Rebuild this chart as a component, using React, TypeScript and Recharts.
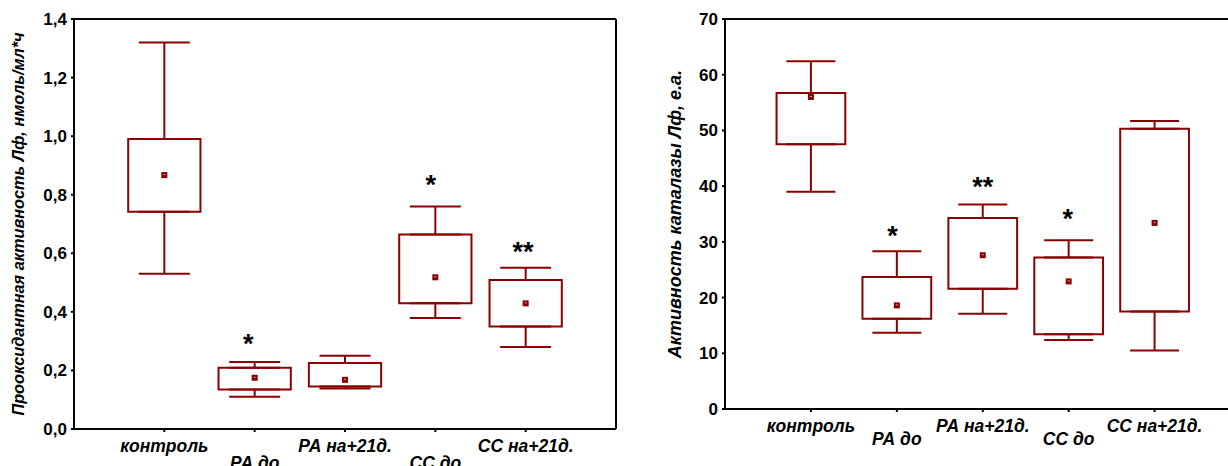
import {
  ComposedChart,
  ErrorBar,
  ReferenceArea,
  Scatter,
  XAxis,
  YAxis,
} from 'recharts'

const groups = ['контроль', 'РА до', 'РА на+21д.', 'СС до', 'СС на+21д.']

// left panel: prooxidant activity, nmol/ml*h
const proxMin = [0.53, 0.11, 0.138, 0.379, 0.28]
const proxQ1 = [0.742, 0.135, 0.145, 0.429, 0.35]
const proxMean = [0.867, 0.175, 0.168, 0.518, 0.429]
const proxQ3 = [0.99, 0.209, 0.225, 0.664, 0.509]
const proxMax = [1.32, 0.229, 0.25, 0.76, 0.551]
const proxStars = [
  { x: 1.93, y: 0.312, label: '*' },
  { x: 3.95, y: 0.853, label: '*' },
  { x: 4.97, y: 0.624, label: '**' },
]
const proxTicks = [0, 0.2, 0.4, 0.6, 0.8, 1.0, 1.2, 1.4]

// right panel: catalase activity, a.u.
const catMin = [39.0, 13.7, 17.1, 12.4, 10.5]
const catQ1 = [47.5, 16.2, 21.6, 13.4, 17.5]
const catMean = [56.0, 18.6, 27.6, 22.9, 33.4]
const catQ3 = [56.7, 23.7, 34.3, 27.2, 50.3]
const catMax = [62.4, 28.3, 36.7, 30.3, 51.7]
const catStars = [
  { x: 1.95, y: 32.2, label: '*' },
  { x: 3.0, y: 40.9, label: '**' },
  { x: 3.99, y: 35.1, label: '*' },
]
const catTicks = [0, 10, 20, 30, 40, 50, 60, 70]

const RED = '#8b0000'
const FONT = '"Liberation Sans", Arial, sans-serif'
const catPositions = [1, 2, 3, 4, 5]

function MeanMark(props: any) {
  const { cx, cy } = props
  if (cx == null || cy == null) return <g />
  return (
    <g>
      <rect x={cx - 3} y={cy - 3} width={6} height={6} fill={RED} />
      <rect x={cx - 1} y={cy - 1} width={2} height={1} fill="#d9a0a0" />
    </g>
  )
}

function Star(props: any) {
  const { cx, cy, payload } = props
  if (cx == null || cy == null) return <g />
  return (
    <text x={cx} y={cy + 15} textAnchor="middle" fontFamily={FONT} fontWeight="bold" fontSize={27} fill="#000">
      {payload.label}
    </text>
  )
}

function makeTick(row1: number, row2: number) {
  return function GroupTick(props: any) {
    const { x, payload } = props
    const i = Math.round(payload.value) - 1
    const axisY = props.y
    return (
      <text
        x={x}
        y={axisY + (i % 2 === 1 ? row2 : row1)}
        textAnchor="middle"
        fontFamily={FONT}
        fontWeight="bold"
        fontStyle="italic"
        fontSize={17.5}
        fill="#000"
      >
        {groups[i]}
      </text>
    )
  }
}

type PanelProps = {
  width: number
  height: number
  margin: { top: number; right: number; left: number; bottom: number }
  yWidth: number
  xHeight: number
  domain: [number, number]
  ticks: number[]
  fmt: (v: number) => string
  mins: number[]
  q1s: number[]
  means: number[]
  q3s: number[]
  maxs: number[]
  stars: { x: number; y: number; label: string }[]
  yLabel: string
  labelSize: number
  labelOffset: number
  row1: number
  row2: number
  capWidth: number
}

function BoxPanel(p: PanelProps) {
  const meanPts = groups.map((_, i) => ({ x: i + 1, y: p.means[i] }))
  const upperPts = groups.map((_, i) => ({ x: i + 1, y: p.q3s[i], err: [0, p.maxs[i] - p.q3s[i]] }))
  const lowerPts = groups.map((_, i) => ({ x: i + 1, y: p.q1s[i], err: [p.q1s[i] - p.mins[i], 0] }))
  const tickStyle = { fontFamily: FONT, fontWeight: 'bold', fontSize: 17, fill: '#000' }

  return (
    <ComposedChart width={p.width} height={p.height} margin={p.margin}>
      <XAxis
        xAxisId="b"
        dataKey="x"
        type="number"
        domain={[0, 6]}
        ticks={catPositions}
        allowDataOverflow
        height={p.xHeight}
        tickSize={3}
        tickMargin={0}
        interval={0}
        stroke="#000"
        strokeWidth={2}
        tick={makeTick(p.row1, p.row2)}
      />
      <XAxis
        xAxisId="t"
        orientation="top"
        dataKey="x"
        type="number"
        domain={[0, 6]}
        ticks={catPositions}
        height={1}
        mirror
        tickSize={3}
        tick={false}
        stroke="#000"
        strokeWidth={2}
      />
      <YAxis
        yAxisId="l"
        dataKey="y"
        type="number"
        domain={p.domain}
        ticks={p.ticks}
        interval={0}
        width={p.yWidth}
        tickSize={3}
        tickMargin={4}
        tickFormatter={p.fmt}
        tick={tickStyle}
        stroke="#000"
        strokeWidth={2}
        label={{
          value: p.yLabel,
          angle: -90,
          position: 'insideLeft',
          offset: p.labelOffset,
          style: { textAnchor: 'middle', fontFamily: FONT, fontWeight: 'bold', fontStyle: 'italic', fontSize: p.labelSize, fill: '#000' },
        }}
      />
      <YAxis
        yAxisId="r"
        orientation="right"
        type="number"
        domain={p.domain}
        ticks={p.ticks}
        width={1}
        mirror
        tickSize={3}
        tick={false}
        stroke="#000"
        strokeWidth={2}
      />
      {groups.map((g, i) => (
        <ReferenceArea
          key={g}
          xAxisId="b"
          yAxisId="l"
          x1={i + 1 - 0.4}
          x2={i + 1 + 0.4}
          y1={p.q1s[i]}
          y2={p.q3s[i]}
          fill="#fff"
          fillOpacity={1}
          stroke={RED}
          strokeWidth={2}
        />
      ))}
      <Scatter xAxisId="b" yAxisId="l" data={upperPts} isAnimationActive={false} shape={() => <g />}>
        <ErrorBar dataKey="err" direction="y" width={p.capWidth / 2} stroke={RED} strokeWidth={2} isAnimationActive={false} />
      </Scatter>
      <Scatter xAxisId="b" yAxisId="l" data={lowerPts} isAnimationActive={false} shape={() => <g />}>
        <ErrorBar dataKey="err" direction="y" width={p.capWidth / 2} stroke={RED} strokeWidth={2} isAnimationActive={false} />
      </Scatter>
      <Scatter xAxisId="b" yAxisId="l" data={meanPts} isAnimationActive={false} shape={MeanMark} />
      <Scatter xAxisId="b" yAxisId="l" data={p.stars} isAnimationActive={false} shape={Star} />
    </ComposedChart>
  )
}

export default function App() {
  return (
    <div style={{ position: 'absolute', left: 0, top: 0, width: 1228, height: 466, overflow: 'hidden', background: '#fff' }}>
      <div style={{ position: 'absolute', left: 0, top: 0 }}>
        <BoxPanel
          width={620}
          height={466}
          margin={{ top: 19, right: 4, left: 0, bottom: 0 }}
          yWidth={74}
          xHeight={37}
          domain={[0, 1.4]}
          ticks={proxTicks}
          fmt={(v) => v.toFixed(1).replace('.', ',')}
          mins={proxMin}
          q1s={proxQ1}
          means={proxMean}
          q3s={proxQ3}
          maxs={proxMax}
          stars={proxStars}
          yLabel="Прооксидантная активность Лф, нмоль/мл*ч"
          labelSize={16.3}
          labelOffset={18}
          row1={20}
          row2={37}
          capWidth={51}
        />
      </div>
      <div style={{ position: 'absolute', left: 620, top: 0 }}>
        <BoxPanel
          width={640}
          height={466}
          margin={{ top: 19, right: 19.5, left: 0, bottom: 0 }}
          yWidth={105}
          xHeight={57}
          domain={[0, 70]}
          ticks={catTicks}
          fmt={(v) => String(v)}
          mins={catMin}
          q1s={catQ1}
          means={catMean}
          q3s={catQ3}
          maxs={catMax}
          stars={catStars}
          yLabel="Активность каталазы Лф, е.а."
          labelSize={18}
          labelOffset={55}
          row1={20}
          row2={33}
          capWidth={49}
        />
      </div>
    </div>
  )
}
